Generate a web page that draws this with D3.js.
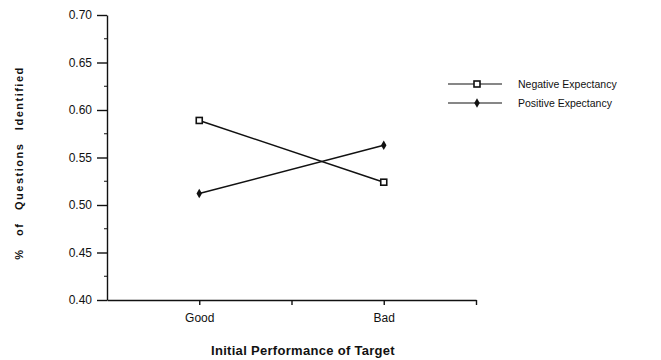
<!DOCTYPE html>
<html>
<head>
<meta charset="utf-8">
<script src="https://cdn.jsdelivr.net/npm/d3@7"></script>
<style>
  body { margin: 0; background: #fff; }
  text { font-family: "Liberation Sans", Arial, sans-serif; fill: #111; }
</style>
</head>
<body>
<div id="chart"></div>
<script>
"use strict";

// categories on the x axis (positions 1 and 3 of a 0..4 band)
const categories = ["Good", "Bad"];
const categoryPos = [1, 3];

// series values
const negativeValues = [0.589, 0.524];
const positiveValues = [0.512, 0.563];

const yTicks = [0.40, 0.45, 0.50, 0.55, 0.60, 0.65, 0.70];
const yMinorTicks = [0.425, 0.475, 0.525, 0.575, 0.625, 0.675];
const xTicks = [1, 2, 3, 4];

const width = 661, height = 360;
const margin = { left: 107, top: 15, plotRight: 476, plotBottom: 300 };

const svg = d3.select("#chart").append("svg")
  .attr("width", width)
  .attr("height", height);

const x = d3.scaleLinear().domain([0, 4]).range([margin.left, margin.plotRight]);
const y = d3.scaleLinear().domain([0.40, 0.70]).range([margin.plotBottom, margin.top]);

// y axis
const yAxis = svg.append("g")
  .attr("transform", `translate(${margin.left},0)`)
  .call(d3.axisLeft(y).tickValues(yTicks).tickFormat(d3.format(".2f")).tickSize(10).tickPadding(5).tickSizeOuter(0));
yAxis.selectAll("text").style("font-size", "12px");

// minor ticks on y
svg.append("g").selectAll("line")
  .data(yMinorTicks)
  .enter()
  .append("line")
  .attr("x1", margin.left - 3)
  .attr("x2", margin.left)
  .attr("y1", d => y(d))
  .attr("y2", d => y(d))
  .attr("stroke", "#111");

// x axis
const xAxis = svg.append("g")
  .attr("transform", `translate(0,${margin.plotBottom})`)
  .call(d3.axisBottom(x).tickValues(xTicks).tickFormat(d => {
    const i = categoryPos.indexOf(d);
    return i >= 0 ? categories[i] : "";
  }).tickSize(5).tickPadding(8).tickSizeOuter(0));
xAxis.selectAll("text").style("font-size", "12px");

svg.selectAll(".domain, .tick line").attr("stroke", "#111").attr("stroke-width", 1.4);

// axis titles
svg.append("text")
  .attr("transform", "translate(23,163) rotate(-90)")
  .attr("text-anchor", "middle")
  .style("font-size", "11px")
  .style("font-weight", "bold")
  .style("letter-spacing", "1.5px")
  .style("word-spacing", "8px")
  .text("% of Questions Identified");

svg.append("text")
  .attr("x", 303)
  .attr("y", 355)
  .attr("text-anchor", "middle")
  .style("font-size", "13px")
  .style("font-weight", "bold")
  .style("letter-spacing", "0.3px")
  .text("Initial Performance of Target");

const line = d3.line()
  .x((d, i) => x(categoryPos[i]))
  .y(d => y(d));

// lines
[negativeValues, positiveValues].forEach(vals => {
  svg.append("path")
    .datum(vals)
    .attr("d", line)
    .attr("fill", "none")
    .attr("stroke", "#111")
    .attr("stroke-width", 1.5);
});

function squareMarker(g, cx, cy) {
  g.append("rect")
    .attr("x", cx - 3).attr("y", cy - 3)
    .attr("width", 6).attr("height", 6)
    .attr("fill", "#fff").attr("stroke", "#111").attr("stroke-width", 1.6);
}
function dotMarker(g, cx, cy) {
  g.append("path")
    .attr("d", d3.symbol(d3.symbolDiamond, 26)())
    .attr("transform", `translate(${cx},${cy})`)
    .attr("fill", "#111");
}

negativeValues.forEach((v, i) => squareMarker(svg, x(categoryPos[i]), y(v)));
positiveValues.forEach((v, i) => dotMarker(svg, x(categoryPos[i]), y(v)));

// legend
const legendItems = [
  { label: "Negative Expectancy", marker: squareMarker },
  { label: "Positive Expectancy", marker: dotMarker }
];
legendItems.forEach((item, i) => {
  const ly = 84 + i * 19;
  svg.append("line")
    .attr("x1", 448).attr("x2", 502)
    .attr("y1", ly).attr("y2", ly)
    .attr("stroke", "#111").attr("stroke-width", 1.2);
  item.marker(svg, 477, ly);
  svg.append("text")
    .attr("x", 518).attr("y", ly + 4)
    .style("font-size", "10.5px")
    .text(item.label);
});
</script>
</body>
</html>
